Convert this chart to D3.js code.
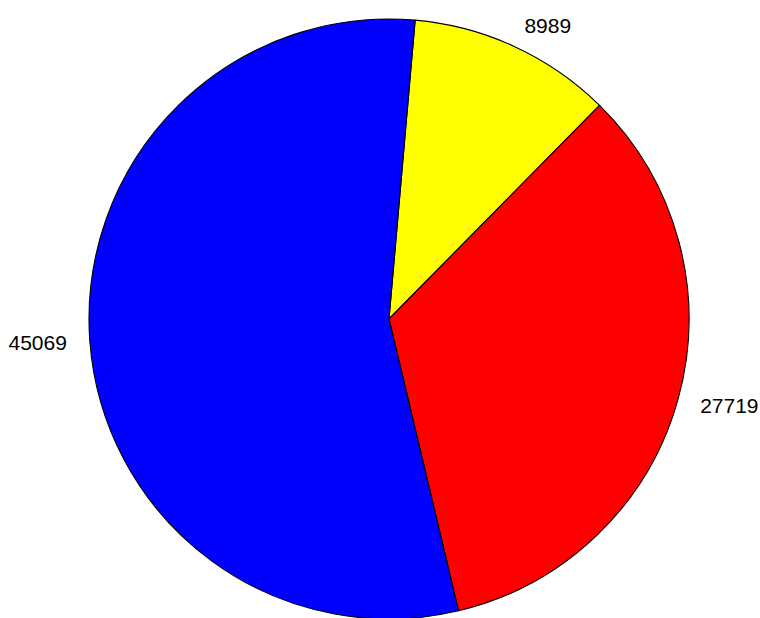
<!DOCTYPE html>
<html>
<head>
<meta charset="utf-8">
<script src="https://cdn.jsdelivr.net/npm/d3@7"></script>
<style>
  body { margin: 0; background: #fff; }
  svg { display: block; }
</style>
</head>
<body>
<div id="chart"></div>
<script>
// slice values, clockwise from the top
var sliceValues = [8989, 27719, 45069];
var sliceLabels = ["8989", "27719", "45069"];
var sliceColors = ["#ffff00", "#ff0000", "#0000ff"];

var W = 760, H = 618;
var cx = 389, cy = 319, radius = 300, labelRadius = 323;
var startDeg = 5;

var svg = d3.select("#chart")
    .append("svg")
    .attr("width", W)
    .attr("height", H);

var g = svg.append("g")
    .attr("transform", "translate(" + cx + "," + cy + ")");

var pie = d3.pie()
    .sort(null)
    .startAngle(startDeg * Math.PI / 180)
    .endAngle(startDeg * Math.PI / 180 + 2 * Math.PI);

var arcs = pie(sliceValues);

var arc = d3.arc().innerRadius(0).outerRadius(radius);
var labelArc = d3.arc().innerRadius(labelRadius).outerRadius(labelRadius);

g.selectAll("path.slice")
    .data(arcs)
    .enter()
    .append("path")
    .attr("class", "slice")
    .attr("d", arc)
    .attr("fill", function(d, i) { return sliceColors[i]; })
    .attr("stroke", "#000")
    .attr("stroke-width", 1.1)
    .attr("stroke-linejoin", "round");

g.selectAll("text.label")
    .data(arcs)
    .enter()
    .append("text")
    .attr("class", "label")
    .attr("transform", function(d) { return "translate(" + labelArc.centroid(d) + ")"; })
    .attr("text-anchor", function(d) {
        var mid = (d.startAngle + d.endAngle) / 2;
        return Math.sin(mid) >= 0 ? "start" : "end";
    })
    .attr("dy", "0.33em")
    .style("font-family", "'Liberation Sans', Arial, Helvetica, sans-serif")
    .style("font-size", "21px")
    .attr("fill", "#000")
    .text(function(d, i) { return sliceLabels[i]; });
</script>
</body>
</html>
